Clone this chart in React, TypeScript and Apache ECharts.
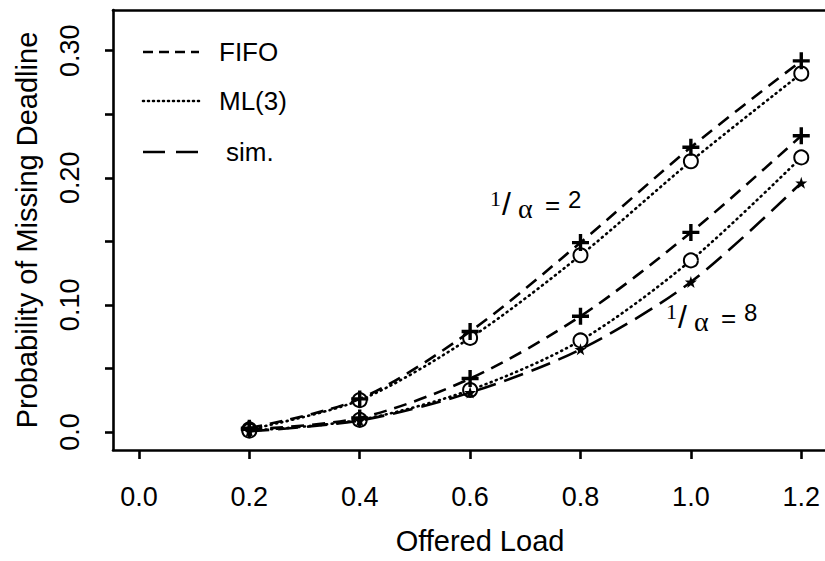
import React, { useEffect, useRef } from "react";
import * as echarts from "echarts";

const loads = [0.2, 0.4, 0.6, 0.8, 1.0, 1.2];
// 1/alpha = 2
const fifoA2 = [0.003, 0.026, 0.079, 0.149, 0.224, 0.292];
const mlA2 = [0.002, 0.025, 0.074, 0.139, 0.213, 0.282];
// 1/alpha = 8
const fifoA8 = [0.002, 0.011, 0.042, 0.091, 0.157, 0.233];
const mlA8 = [0.001, 0.0095, 0.033, 0.072, 0.135, 0.216];
const simA8 = [0.0005, 0.009, 0.031, 0.065, 0.118, 0.196];

const xTickValues = [0.0, 0.2, 0.4, 0.6, 0.8, 1.0, 1.2];
const yTickValues = [0, 0.05, 0.1, 0.15, 0.2, 0.25, 0.3];
const yLabelValues = [0, 0.1, 0.2, 0.3];
const legendNames = ["FIFO", "ML(3)", "sim."];

const FONT = "Liberation Sans";
const SERIF = "Liberation Serif";

const PLUS = "path://M4,0h2v10h-2z M0,4h10v2h-10z";
const STAR =
  "path://M5,0 L6.2,3.6 L10,3.6 L7,5.9 L8.1,9.5 L5,7.3 L1.9,9.5 L3,5.9 L0,3.6 L3.8,3.6 Z";

const dashFifo = [13, 8];
const dashMl = [1, 4.5];
const dashSim = [20, 9];

function pairs(vals: number[]) {
  return loads.map((x, i) => [x, vals[i]]);
}

export default function App() {
  const ref = useRef<HTMLDivElement>(null);
  useEffect(() => {
    if (!ref.current) return;
    const chart = echarts.init(ref.current, undefined, { renderer: "svg" });

    const lineSeries = (
      name: string,
      vals: number[],
      dash: number[],
      symbol: string,
      size: number,
      cap: string
    ) => ({
      name,
      type: "line",
      data: pairs(vals),
      smooth: 0.3,
      symbol,
      symbolSize: size,
      showSymbol: true,
      color: "#000",
      lineStyle: { color: "#000", width: 2.6, type: dash, cap },
      itemStyle:
        symbol === "emptyCircle"
          ? { color: "#000", borderColor: "#000", borderWidth: 3 }
          : { color: "#000", borderWidth: 0 },
      z: symbol === "emptyCircle" ? 3 : 4,
    });

    const txt = (x: number, y: number, text: string, size: number, family: string) => ({
      type: "text",
      x,
      y,
      z: 10,
      style: {
        text,
        fontSize: size,
        fontFamily: family,
        fill: "#000",
        align: "left",
        verticalAlign: "middle",
      },
    });

    const legendY = [52, 101, 152];
    const graphics: any[] = [];
    legendNames.forEach((n, i) => {
      graphics.push({
        type: "line",
        shape: { x1: 143, y1: legendY[i], x2: 199, y2: legendY[i] },
        style: {
          stroke: "#000",
          lineWidth: 2.6,
          lineDash: i === 1 ? [1, 4] : i === 0 ? [10, 6] : [22, 11],
          lineCap: i === 1 ? "round" : "butt",
        },
      });
      graphics.push(txt(i === 2 ? 226 : 219, legendY[i], n, 26, FONT));
    });
    const annot = (x: number, y: number, val: string) => [
      txt(x, y, "1", 22, SERIF),
      txt(x + 12, y + 6, "/", 32, FONT),
      txt(x + 28, y + 10, "α", 28, SERIF),
      txt(x + 55, y + 7, "=", 26, FONT),
      txt(x + 78, y + 1, val, 24, FONT),
    ];
    graphics.push(...annot(490, 198, "2"));
    graphics.push(...annot(666, 311, "8"));

    chart.setOption({
      animation: false,
      backgroundColor: "#fff",
      grid: { left: 113, top: 10, right: 0, bottom: 111, containLabel: false, outerBoundsMode: "none" },
      xAxis: [
        {
          type: "value",
          min: -0.047,
          max: 1.243,
          position: "bottom",
          axisLine: { show: true, onZero: false, lineStyle: { color: "#000", width: 2.6 } },
          axisTick: { show: true, length: 9, customValues: xTickValues, lineStyle: { color: "#000", width: 2.6 } },
          axisLabel: {
            customValues: xTickValues,
            formatter: (v: number) => v.toFixed(1),
            fontSize: 27,
            fontFamily: FONT,
            color: "#000",
            margin: 33,
          },
          splitLine: { show: false },
          name: "Offered Load",
          nameLocation: "middle",
          nameGap: 76,
          nameTextStyle: { fontSize: 29, fontFamily: FONT, color: "#000", padding: [0, 0, 0, 22] },
        },
        {
          type: "value",
          min: -0.047,
          max: 1.243,
          position: "top",
          axisLine: { show: true, onZero: false, lineStyle: { color: "#000", width: 2.6 } },
          axisTick: { show: false },
          axisLabel: { show: false },
          splitLine: { show: false },
        },
      ],
      yAxis: {
        type: "value",
        min: -0.0142,
        max: 0.332,
        axisLine: { show: true, onZero: false, lineStyle: { color: "#000", width: 2.6 } },
        axisTick: { show: true, length: 8, customValues: yTickValues, lineStyle: { color: "#000", width: 2.6 } },
        axisLabel: {
          customValues: yLabelValues,
          rotate: 90,
          formatter: (v: number) => (v === 0 ? "0.0" : v.toFixed(2)),
          fontSize: 27,
          fontFamily: FONT,
          color: "#000",
          margin: 30,
        },
        splitLine: { show: false },
        name: "Probability of Missing Deadline",
        nameLocation: "middle",
        nameGap: 72,
        nameTextStyle: { fontSize: 29, fontFamily: FONT, color: "#000" },
      },
      series: [
        lineSeries("FIFO 1/α=2", fifoA2, dashFifo, PLUS, 17, "butt"),
        lineSeries("ML(3) 1/α=2", mlA2, dashMl, "emptyCircle", 14, "round"),
        lineSeries("FIFO 1/α=8", fifoA8, dashFifo, PLUS, 17, "butt"),
        lineSeries("ML(3) 1/α=8", mlA8, dashMl, "emptyCircle", 14, "round"),
        lineSeries("sim. 1/α=8", simA8, dashSim, STAR, 12, "butt"),
      ],
      graphic: graphics,
    });
    return () => chart.dispose();
  }, []);
  return (
    <div
      ref={ref}
      style={{ position: "fixed", left: 0, top: 0, width: 825, height: 561 }}
    />
  );
}
